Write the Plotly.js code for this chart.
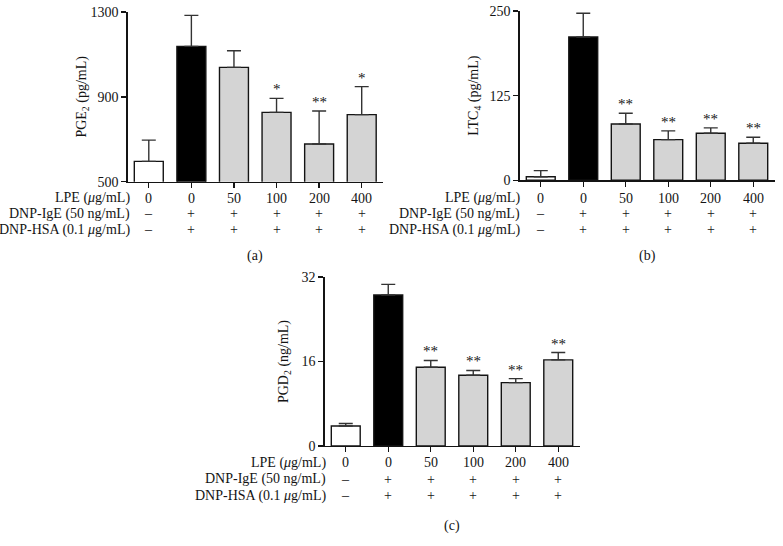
<!DOCTYPE html>
<html>
<head>
<meta charset="utf-8">
<script src="https://cdn.plot.ly/plotly-3.0.1.min.js"></script>
<style>html,body{margin:0;padding:0;background:#fff;}#chart{width:783px;height:546px;}</style>
</head>
<body>
<div id="chart"></div>
<script>
// ---- data ----
const lpeLabels = ['0', '0', '50', '100', '200', '400'];
const igeLabels = ['–', '+', '+', '+', '+', '+'];
const hsaLabels = ['–', '+', '+', '+', '+', '+'];
const rowNames = ['LPE (<i>μ</i>g/mL)', 'DNP-IgE (50 ng/mL)', 'DNP-HSA (0.1 <i>μ</i>g/mL)'];
const barColors = ['#ffffff', '#000000', '#d4d4d4', '#d4d4d4', '#d4d4d4', '#d4d4d4'];

const pge2Mean = [596, 1138, 1039, 827, 678, 816];
const pge2Err = [100, 146, 78, 66, 155, 132];
const pge2Sig = ['', '', '', '*', '**', '*'];
const pge2Ticks = [500, 900, 1300];

const ltc4Mean = [5.3, 211.6, 83.1, 60, 69.4, 54.6];
const ltc4Err = [9, 35, 16, 13, 8, 9];
const ltc4Sig = ['', '', '**', '**', '**', '**'];
const ltc4Ticks = [0, 125, 250];

const pgd2Mean = [3.8, 28.6, 14.9, 13.4, 12.0, 16.3];
const pgd2Err = [0.45, 2.0, 1.3, 0.9, 0.75, 1.4];
const pgd2Sig = ['', '', '**', '**', '**', '**'];
const pgd2Ticks = [0, 16, 32];

const xPos = [0, 1, 2, 3, 4, 5];

// ---- layout helpers ----
const W = 783, H = 546;
const FONT = 'Liberation Serif, Times New Roman, serif';
const FS = 14;
const INK = '#141414';
const px = v => v / W;
const py = v => 1 - v / H;

const panels = [
  {mean: pge2Mean, err: pge2Err, sig: pge2Sig, ticks: pge2Ticks, range: [500, 1300],
   title: 'PGE<sub>2</sub> (pg/mL)', standoff: 0, x0: 127.5, x1: 383, yTop: 12, yBot: 181.7,
   labelRight: 132, rows: [198, 214, 229.5], tag: '(a)', tagY: 256},
  {mean: ltc4Mean, err: ltc4Err, sig: ltc4Sig, ticks: ltc4Ticks, range: [0, 250],
   title: 'LTC<sub>4</sub> (pg/mL)', standoff: 7, x0: 519.5, x1: 774.5, yTop: 11, yBot: 180.3,
   labelRight: 522, rows: [198, 214, 229.5], tag: '(b)', tagY: 256},
  {mean: pgd2Mean, err: pgd2Err, sig: pgd2Sig, ticks: pgd2Ticks, range: [0, 32],
   title: 'PGD<sub>2</sub> (ng/mL)', standoff: 9, x0: 324.5, x1: 579.5, yTop: 277, yBot: 446,
   labelRight: 328, rows: [462.7, 479, 495.7], tag: '(c)', tagY: 526}
];

const traces = [];
const layout = {
  width: W, height: H,
  margin: {l: 0, r: 0, t: 0, b: 0},
  paper_bgcolor: '#fff', plot_bgcolor: 'rgba(0,0,0,0)',
  showlegend: false,
  font: {family: FONT, size: FS, color: INK},
  annotations: []
};

panels.forEach((p, i) => {
  const n = i === 0 ? '' : String(i + 1);
  traces.push({
    type: 'bar', x: xPos, y: p.mean, width: 0.68,
    xaxis: 'x' + n, yaxis: 'y' + n,
    marker: {color: barColors, line: {color: INK, width: 1.4}},
    error_y: {type: 'data', symmetric: false, array: p.err, arrayminus: p.mean.map(() => 0),
              color: '#333', thickness: 1.4, width: 7},
    hoverinfo: 'skip'
  });
  layout['xaxis' + n] = {
    domain: [px(p.x0), px(p.x1)], range: [-0.5, 5.5], anchor: 'y' + n,
    showline: true, linecolor: INK, linewidth: 1.3,
    ticks: 'outside', ticklen: 5, tickwidth: 1.3, tickcolor: INK,
    tickvals: xPos, showticklabels: false, showgrid: false, zeroline: false, fixedrange: true
  };
  layout['yaxis' + n] = {
    domain: [py(p.yBot), py(p.yTop)], range: p.range, anchor: 'x' + n,
    showline: true, linecolor: INK, linewidth: 1.3,
    ticks: 'outside', ticklen: 5, tickwidth: 1.3, tickcolor: INK,
    tickvals: p.ticks, tickfont: {family: FONT, size: FS, color: INK},
    showgrid: false, zeroline: false, fixedrange: true,
    title: {text: p.title, font: {family: FONT, size: FS, color: INK}, standoff: p.standoff}
  };
  const xr = 'x' + n;
  // significance stars
  p.sig.forEach((s, k) => {
    if (!s) return;
    layout.annotations.push({xref: xr, yref: 'y' + n, x: xPos[k], y: p.mean[k] + p.err[k],
      text: s, showarrow: false, yanchor: 'bottom', yshift: -1,
      font: {family: FONT, size: 15, color: INK}});
  });
  // table rows
  const rowsVals = [lpeLabels, igeLabels, hsaLabels];
  rowsVals.forEach((vals, r) => {
    layout.annotations.push({xref: 'paper', yref: 'paper', x: px(p.labelRight), y: py(p.rows[r]),
      xanchor: 'right', yanchor: 'middle', text: rowNames[r], showarrow: false,
      font: {family: FONT, size: FS, color: INK}});
    vals.forEach((v, k) => {
      layout.annotations.push({xref: xr, yref: 'paper', x: xPos[k], y: py(p.rows[r]),
        xanchor: 'center', yanchor: 'middle', text: v, showarrow: false,
        font: {family: FONT, size: FS, color: INK}});
    });
  });
  layout.annotations.push({xref: xr, yref: 'paper', x: 2.5, y: py(p.tagY),
    xanchor: 'center', yanchor: 'middle', text: p.tag, showarrow: false,
    font: {family: FONT, size: FS, color: INK}});
});

Plotly.newPlot('chart', traces, layout, {displayModeBar: false, staticPlot: true});
</script>
</body>
</html>
